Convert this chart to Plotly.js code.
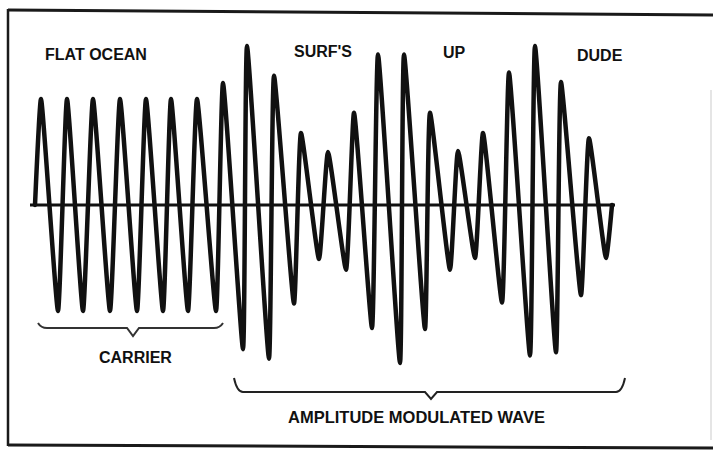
<!DOCTYPE html>
<html>
<head>
<meta charset="utf-8">
<script src="https://cdn.plot.ly/plotly-3.0.1.min.js"></script>
<style>html,body{margin:0;padding:0;background:#fff;}#chart{width:713px;height:450px;}
#chart path.js-line{stroke-linejoin:round !important;stroke-linecap:round !important;}</style>
</head>
<body>
<div id="chart"></div>
<script>
// Time (arbitrary units) of each extreme of the wave, and its amplitude (carrier = 1)
const waveTime = [35, 41, 58, 67, 83, 93, 110, 120, 137, 146, 163, 171, 188, 197, 216,
  223, 243, 247, 269, 274, 294, 301, 319, 328, 346, 354, 372, 378, 400, 404, 425,
  430, 450, 458, 475, 483, 502, 509, 530, 535, 556, 561, 581, 589, 606, 612];
const waveAmplitude = [0, 1.0, -1.0, 1.0, -1.0, 1.0, -1.0, 1.0, -1.0, 1.0, -1.0, 1.0, -1.0, 1.0, -1.0,
  1.15, -1.36, 1.50, -1.45, 1.22, -0.93, 0.68, -0.51, 0.50, -0.61, 0.87, -1.16, 1.42, -1.49, 1.42, -1.17,
  0.87, -0.61, 0.51, -0.50, 0.68, -0.92, 1.25, -1.42, 1.50, -1.39, 1.16, -0.85, 0.63, -0.50, 0];
const topWords = ["FLAT OCEAN", "SURF'S", "UP", "DUDE"];
const carrierLabel = "CARRIER";
const amLabel = "AMPLITUDE MODULATED WAVE";

// layout helpers (pixel -> data) for decorations
const W = 713, H = 450, AX = 205, S = 106;
const X = px => px;
const Y = py => (AX - py) / S;
const PX = px => px / W;
const PY = py => 1 - py / H;

const ink = '#111111';

const trace = {
  x: waveTime, y: waveAmplitude, type: 'scatter', mode: 'lines',
  line: {color: ink, width: 4.5, shape: 'spline', smoothing: 0.45},
  hoverinfo: 'skip'
};

function brace(x0, x1, yEnd, yBase, yTip, xm) {
  return `M ${X(x0)},${Y(yEnd)} Q ${X(x0+3)},${Y(yBase)} ${X(x0+9)},${Y(yBase)} L ${X(xm-6)},${Y(yBase)} ` +
         `L ${X(xm)},${Y(yTip)} L ${X(xm+6)},${Y(yBase)} L ${X(x1-9)},${Y(yBase)} Q ${X(x1-3)},${Y(yBase)} ${X(x1)},${Y(yEnd)}`;
}

const shapes = [
  // zero axis
  {type: 'line', xref: 'x', yref: 'y', x0: 30, x1: 615, y0: 0, y1: 0, line: {color: ink, width: 3}},
  // braces
  {type: 'path', xref: 'x', yref: 'y', path: brace(38, 223, 323, 328, 336, 133), line: {color: '#333', width: 2}},
  {type: 'path', xref: 'x', yref: 'y', path: brace(234, 625, 378, 392, 399, 431), line: {color: '#222', width: 2}},
  // frame
  {type: 'line', xref: 'paper', yref: 'paper', x0: PX(8), y0: PY(10), x1: PX(713), y1: PY(15), line: {color: '#1a1a1a', width: 3}},
  {type: 'line', xref: 'paper', yref: 'paper', x0: PX(8), y0: PY(9), x1: PX(8), y1: PY(446), line: {color: '#1a1a1a', width: 2.5}},
  {type: 'line', xref: 'paper', yref: 'paper', x0: PX(8), y0: PY(445), x1: PX(713), y1: PY(448), line: {color: '#1a1a1a', width: 3}},
  {type: 'line', xref: 'paper', yref: 'paper', x0: PX(711), y0: PY(90), x1: PX(711), y1: PY(440), line: {color: '#dddddd', width: 1.5}}
];

const font = {family: 'Liberation Sans, Arial, sans-serif', size: 16, color: ink, weight: 'bold'};
function ann(text, cx, cy, size) {
  return {text: text, xref: 'paper', yref: 'paper', x: PX(cx), y: PY(cy), xanchor: 'center', yanchor: 'middle',
          showarrow: false, font: Object.assign({}, font, {size: size || 16})};
}
const annotations = [
  ann(topWords[0], 96, 54),
  ann(topWords[1], 323, 52),
  ann(topWords[2], 454, 53),
  ann(topWords[3], 600, 55),
  ann(carrierLabel, 135, 357),
  ann(amLabel, 416, 417, 16.5)
];

const layout = {
  width: W, height: H,
  margin: {l: 0, r: 0, t: 0, b: 0},
  paper_bgcolor: '#fff', plot_bgcolor: '#fff',
  showlegend: false,
  xaxis: {range: [0, W], visible: false, fixedrange: true},
  yaxis: {range: [Y(H), Y(0)], visible: false, fixedrange: true},
  shapes: shapes,
  annotations: annotations
};

Plotly.newPlot('chart', [trace], layout, {staticPlot: true, displayModeBar: false});
</script>
</body>
</html>
